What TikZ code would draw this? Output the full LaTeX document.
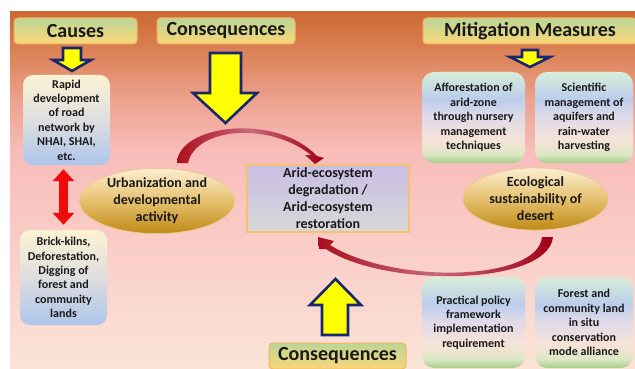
\documentclass[tikz,border=0pt]{standalone}
\usepackage{fontspec}
\setmainfont{Carlito}
\usetikzlibrary{arrows.meta,shapes.geometric,calc}
\definecolor{txt}{RGB}{25,25,25}
\definecolor{bgA}{RGB}{205,105,50}
\definecolor{bgB}{RGB}{222,135,95}
\definecolor{bgC}{RGB}{236,162,142}
\definecolor{bgD}{RGB}{248,188,185}
\definecolor{bgE}{RGB}{250,206,200}
\definecolor{bgF}{RGB}{251,228,215}
\definecolor{hdrtop}{RGB}{188,214,150}
\definecolor{hdrbot}{RGB}{250,214,120}
\definecolor{hdrborder}{RGB}{245,180,95}
\definecolor{cbtop}{RGB}{252,242,212}
\definecolor{cbmid}{RGB}{222,222,222}
\definecolor{cbbot}{RGB}{172,197,235}
\definecolor{mG}{RGB}{165,205,135}
\definecolor{mL}{RGB}{222,232,198}
\definecolor{mP}{RGB}{246,226,216}
\definecolor{mV}{RGB}{222,218,232}
\definecolor{mB}{RGB}{186,205,236}
\definecolor{mT}{RGB}{215,237,215}
\definecolor{elltop}{RGB}{252,238,208}
\definecolor{ellmid}{RGB}{230,192,110}
\definecolor{ellbot}{RGB}{190,138,22}
\definecolor{ellborder}{RGB}{235,200,140}
\definecolor{centop}{RGB}{200,190,228}
\definecolor{cenbot}{RGB}{216,216,216}
\definecolor{cenborder}{RGB}{245,195,110}
\definecolor{navy}{RGB}{25,40,110}
\definecolor{yel}{RGB}{255,255,0}
\definecolor{bright}{RGB}{240,10,10}
\definecolor{crimA}{RGB}{170,15,30}
\definecolor{crimB}{RGB}{200,105,125}
\definecolor{crimC}{RGB}{160,0,20}
\pgfdeclareverticalshading{bgshade}{100bp}{color(0bp)=(bgF); color(25bp)=(bgF); color(41.7bp)=(bgE); color(55.6bp)=(bgD); color(62.7bp)=(bgC); color(68.3bp)=(bgB); color(75bp)=(bgA); color(100bp)=(bgA)}
\pgfdeclareverticalshading{mitshade}{100bp}{color(0bp)=(mG); color(25bp)=(mG); color(30bp)=(mL); color(38bp)=(mP); color(51bp)=(mV); color(60bp)=(mB); color(75bp)=(mT); color(100bp)=(mT)}
\begin{document}
\begin{tikzpicture}[x=1pt,y=-1pt,
  hdr/.style={draw=hdrborder, line width=1pt, rounded corners=4pt, top color=hdrtop, bottom color=hdrbot, minimum height=26pt, inner sep=0pt, font=\fontsize{20}{24}\selectfont\bfseries, text=txt},
  causebox/.style={rounded corners=10pt, top color=cbtop, bottom color=cbbot, middle color=cbmid, inner sep=0pt, align=center, font=\fontsize{12}{14.4}\selectfont\bfseries, text=txt},
  mitbox/.style={rounded corners=12pt, shading=mitshade, inner sep=0pt, align=center, font=\fontsize{12}{14.4}\selectfont\bfseries, text=txt},
  ell/.style={ellipse, draw=ellborder, line width=0.6pt, top color=elltop, bottom color=ellbot, middle color=ellmid, inner sep=0pt, align=center, font=\fontsize{14}{17}\selectfont\bfseries, text=txt},
  centerbox/.style={draw=cenborder, line width=1.2pt, top color=centop, bottom color=cenbot, inner sep=0pt, align=center, font=\fontsize{14}{17}\selectfont\bfseries, text=txt},
  yarrow/.style={fill=yel, draw=navy, line width=2.6pt, line join=miter},
  redlink/.style={draw=bright, line width=9pt, {Triangle[width=21pt,length=12pt]}-{Triangle[width=21pt,length=12pt]}},
  crescent/.style={left color=crimA, right color=crimC, middle color=crimB}
]
\useasboundingbox (0,0) rectangle (635,369);
\fill[white] (0,0) rectangle (635,369);
\shade[shading=bgshade] (10,12) rectangle (635,369);

% headers
\node[hdr, minimum width=123pt] (causes) at (75.5,31) {Causes};
\node[hdr, minimum width=138pt] (cons1) at (226,31) {Consequences};
\node[hdr, minimum width=214pt] (mit) at (530,31) {Mitigation Measures};
\node[hdr, minimum width=137pt] (cons2) at (337.5,356) {Consequences};

% cause boxes
\node[causebox, minimum width=87pt, minimum height=90pt] (rapid) at (66.5,120)
  {Rapid\\development\\of road\\network by\\NHAI, SHAI,\\etc.};
\node[causebox, minimum width=87pt, minimum height=95pt] (brick) at (63.5,277.5)
  {Brick-kilns,\\Deforestation,\\Digging of\\forest and\\community\\lands};

% mitigation boxes
\node[mitbox, minimum width=103pt, minimum height=91pt] (affor) at (473.5,117.5)
  {Afforestation of\\arid-zone\\through nursery\\management\\techniques};
\node[mitbox, minimum width=98pt, minimum height=91pt] (sci) at (584,117.5)
  {Scientific\\management of\\aquifers and\\rain-water\\harvesting};
\node[mitbox, minimum width=103pt, minimum height=91pt] (prac) at (473.5,322.5)
  {Practical policy\\framework\\implementation\\requirement};
\node[mitbox, minimum width=98pt, minimum height=91pt] (forest) at (584,322.5)
  {Forest and\\community land\\in situ\\conservation\\mode alliance};

% centre and ellipses
\node[centerbox, minimum width=162pt, minimum height=67pt] (arid) at (328,198.5)
  {Arid-ecosystem\\degradation /\\Arid-ecosystem\\restoration};
\node[ell, minimum width=155pt, minimum height=63pt] (urban) at (157,201)
  {Urbanization and\\developmental\\activity};
\node[ell, minimum width=145pt, minimum height=62pt] (eco) at (535.5,199)
  {Ecological\\sustainability of\\desert};

% yellow block arrows
\draw[yarrow] (63,48) -- (81,48) -- (81,60) -- (91,60) -- (72,71) -- (53,60) -- (63,60) -- cycle;
\draw[yarrow] (522,50) -- (538,50) -- (538,57) -- (550,57) -- (530,67) -- (510,57) -- (522,57) -- cycle;
\draw[yarrow] (210,53) -- (241,53) -- (241,93) -- (257,93) -- (225.5,123) -- (193,93) -- (210,93) -- cycle;
\draw[yarrow] (322,335) -- (348,335) -- (348,305) -- (361,305) -- (335.5,279) -- (310,305) -- (322,305) -- cycle;

% red double arrow
\draw[redlink, shorten <=4pt, shorten >=5pt] (brick.north |- rapid.south) -- (brick.north);

% curved arrows
\shade[crescent] (177,163) .. controls (178,125) and (275,112) .. (317,156)
  -- (324,158) -- (315,164) -- (305,155) -- (311,155)
  .. controls (270,122) and (196,127) .. (188,163) -- cycle;
\shade[crescent] (553,237) .. controls (548,286) and (385,288) .. (326,249)
  -- (319,249) -- (318,237) -- (334,241) -- (330,245)
  .. controls (392,284) and (538,282) .. (542,237) -- cycle;
\end{tikzpicture}
\end{document}
